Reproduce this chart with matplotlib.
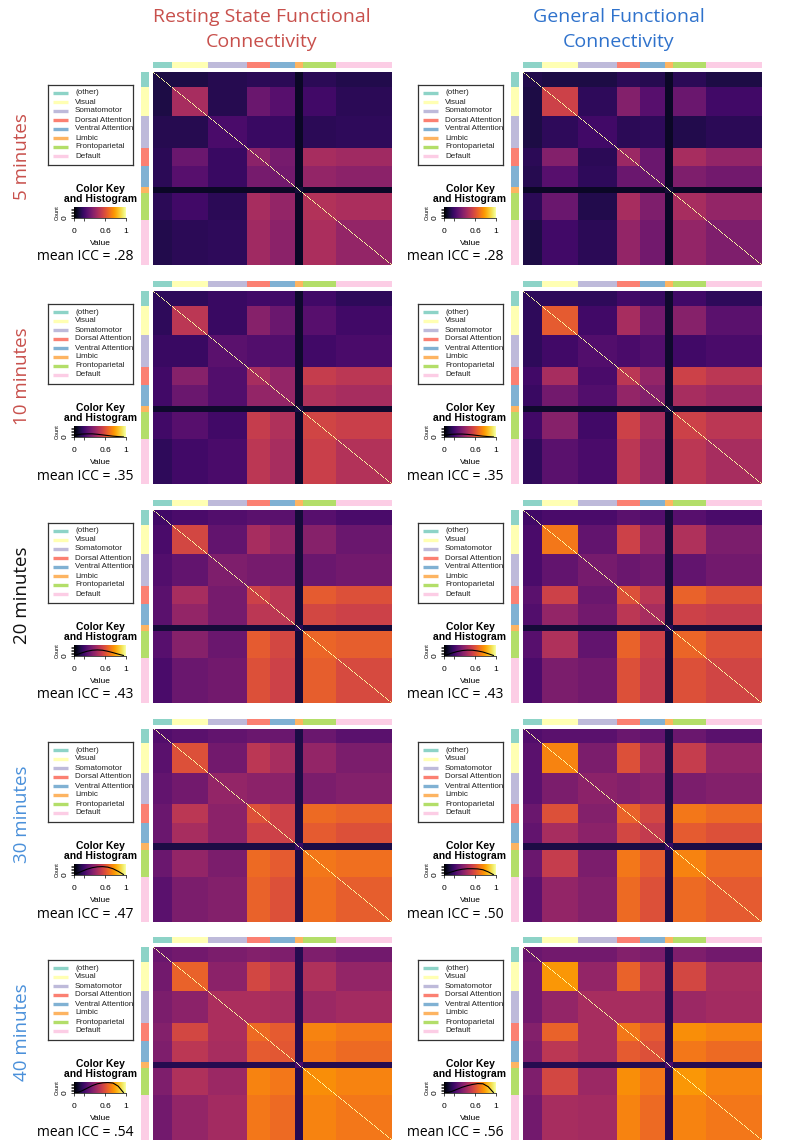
import numpy as np
import matplotlib.pyplot as plt
from matplotlib.colors import ListedColormap

W, H = 789, 1145

networks = ["(other)", "Visual", "Somatomotor", "Dorsal Attention",
            "Ventral Attention", "Limbic", "Frontoparietal", "Default"]
net_colors = ["#8dd3c7", "#ffffb3", "#bebada", "#fb8072",
              "#80b1d3", "#fdb462", "#b3de69", "#fccde5"]
net_sizes = [19, 36, 39, 23, 25, 8, 33, 56]

durations = ["5 minutes", "10 minutes", "20 minutes", "30 minutes", "40 minutes"]
duration_colors = ["#c8504c", "#c8504c", "#111111", "#4a90da", "#4a90da"]
mean_icc_rsfc = [".28", ".35", ".43", ".47", ".54"]
mean_icc_gfc = [".28", ".35", ".43", ".50", ".56"]

# network x network mean ICC, upper triangle (O, V, SM, DA, VA, L, FP, DM)
rsfc_5 = [[0.12, 0.12, 0.14, 0.15, 0.15, 0.07, 0.15, 0.13],
          [0.45, 0.14, 0.30, 0.25, 0.07, 0.20, 0.15],
          [0.22, 0.18, 0.18, 0.07, 0.15, 0.16],
          [0.38, 0.33, 0.07, 0.45, 0.43],
          [0.32, 0.07, 0.40, 0.38],
          [0.10, 0.07, 0.07],
          [0.48, 0.46],
          [0.40]]
gfc_5 = [[0.13, 0.12, 0.12, 0.15, 0.14, 0.07, 0.15, 0.12],
         [0.55, 0.16, 0.36, 0.25, 0.07, 0.30, 0.20],
         [0.20, 0.15, 0.16, 0.07, 0.13, 0.15],
         [0.42, 0.30, 0.07, 0.45, 0.40],
         [0.30, 0.07, 0.35, 0.32],
         [0.10, 0.07, 0.07],
         [0.45, 0.40],
         [0.35]]
rsfc_10 = [[0.16, 0.16, 0.18, 0.20, 0.20, 0.08, 0.20, 0.16],
           [0.50, 0.18, 0.37, 0.30, 0.08, 0.25, 0.20],
           [0.26, 0.24, 0.24, 0.08, 0.20, 0.22],
           [0.45, 0.40, 0.08, 0.53, 0.50],
           [0.40, 0.08, 0.47, 0.45],
           [0.12, 0.08, 0.08],
           [0.56, 0.54],
           [0.48]]
gfc_10 = [[0.16, 0.16, 0.16, 0.20, 0.18, 0.08, 0.20, 0.16],
          [0.63, 0.20, 0.45, 0.32, 0.08, 0.37, 0.26],
          [0.24, 0.22, 0.24, 0.08, 0.20, 0.22],
          [0.50, 0.40, 0.08, 0.55, 0.50],
          [0.36, 0.08, 0.45, 0.42],
          [0.12, 0.08, 0.08],
          [0.55, 0.50],
          [0.45]]
rsfc_20 = [[0.20, 0.22, 0.24, 0.26, 0.26, 0.10, 0.25, 0.22],
           [0.57, 0.28, 0.45, 0.40, 0.10, 0.37, 0.30],
           [0.35, 0.33, 0.33, 0.10, 0.30, 0.32],
           [0.55, 0.50, 0.10, 0.63, 0.60],
           [0.50, 0.10, 0.57, 0.55],
           [0.15, 0.10, 0.10],
           [0.66, 0.64],
           [0.58]]
gfc_20 = [[0.20, 0.22, 0.22, 0.26, 0.24, 0.10, 0.25, 0.22],
          [0.70, 0.28, 0.55, 0.40, 0.10, 0.47, 0.34],
          [0.33, 0.30, 0.32, 0.10, 0.28, 0.32],
          [0.60, 0.50, 0.10, 0.65, 0.60],
          [0.45, 0.10, 0.55, 0.53],
          [0.15, 0.10, 0.10],
          [0.66, 0.60],
          [0.56]]
rsfc_30 = [[0.24, 0.26, 0.28, 0.30, 0.30, 0.12, 0.30, 0.26],
           [0.60, 0.32, 0.50, 0.45, 0.12, 0.40, 0.34],
           [0.40, 0.38, 0.38, 0.12, 0.34, 0.36],
           [0.60, 0.55, 0.12, 0.67, 0.65],
           [0.55, 0.12, 0.63, 0.60],
           [0.18, 0.12, 0.12],
           [0.70, 0.68],
           [0.64]]
gfc_30 = [[0.24, 0.26, 0.26, 0.30, 0.28, 0.12, 0.30, 0.26],
          [0.73, 0.34, 0.60, 0.45, 0.12, 0.53, 0.40],
          [0.38, 0.36, 0.38, 0.12, 0.34, 0.36],
          [0.65, 0.57, 0.12, 0.70, 0.67],
          [0.52, 0.12, 0.63, 0.60],
          [0.18, 0.12, 0.12],
          [0.73, 0.67],
          [0.63]]
rsfc_40 = [[0.30, 0.32, 0.34, 0.36, 0.35, 0.14, 0.35, 0.32],
           [0.65, 0.38, 0.57, 0.50, 0.14, 0.47, 0.40],
           [0.46, 0.46, 0.45, 0.14, 0.42, 0.44],
           [0.67, 0.63, 0.14, 0.73, 0.70],
           [0.62, 0.14, 0.70, 0.67],
           [0.22, 0.14, 0.14],
           [0.75, 0.73],
           [0.70]]
gfc_40 = [[0.30, 0.32, 0.32, 0.36, 0.34, 0.14, 0.35, 0.32],
          [0.77, 0.40, 0.65, 0.50, 0.14, 0.57, 0.45],
          [0.45, 0.45, 0.45, 0.14, 0.42, 0.44],
          [0.70, 0.63, 0.14, 0.75, 0.73],
          [0.60, 0.14, 0.70, 0.67],
          [0.22, 0.14, 0.14],
          [0.77, 0.73],
          [0.70]]
rsfc_blocks = [rsfc_5, rsfc_10, rsfc_20, rsfc_30, rsfc_40]
gfc_blocks = [gfc_5, gfc_10, gfc_20, gfc_30, gfc_40]

# histogram line in the colour key (fraction of key height), None = not visible
hist_x = [0.05, 0.15, 0.25, 0.35, 0.45, 0.55, 0.65, 0.75, 0.85, 0.95]
hist_rsfc = [None,
             [0.22, 0.28, 0.30, 0.30, 0.26, 0.20, 0.14, 0.08, 0.04, 0.01],
             [0.12, 0.30, 0.45, 0.55, 0.58, 0.55, 0.45, 0.32, 0.18, 0.05],
             [0.15, 0.35, 0.55, 0.70, 0.78, 0.80, 0.75, 0.60, 0.35, 0.05],
             [0.02, 0.20, 0.45, 0.70, 0.88, 0.97, 1.00, 0.95, 0.65, 0.05]]
hist_gfc = [None,
            [0.20, 0.26, 0.28, 0.28, 0.25, 0.20, 0.14, 0.08, 0.04, 0.01],
            [0.10, 0.28, 0.42, 0.52, 0.56, 0.55, 0.48, 0.38, 0.22, 0.05],
            [0.15, 0.30, 0.45, 0.55, 0.60, 0.60, 0.58, 0.50, 0.30, 0.03],
            [0.02, 0.15, 0.35, 0.55, 0.70, 0.82, 0.90, 0.88, 0.60, 0.05]]


def full_block(tri):
    k = len(tri)
    b = np.zeros((k, k))
    for i, row in enumerate(tri):
        b[i, i:] = row
        b[i:, i] = row
    return b


def roi_matrix(tri):
    b = full_block(tri)
    m = np.repeat(np.repeat(b, net_sizes, axis=0), net_sizes, axis=1)
    np.fill_diagonal(m, 1.0)
    return m


def add_ax(x0, y0, w, h):
    return fig.add_axes([x0 / W, 1 - (y0 + h) / H, w / W, h / H])


def ftext(x, y, s, **kw):
    fig.text(x / W, 1 - y / H, s, **kw)


fig = plt.figure(figsize=(W / 100, H / 100), dpi=100)
net_cmap = ListedColormap(net_colors)
labels = np.repeat(np.arange(len(net_sizes)), net_sizes)

tops = [72, 291, 510, 729, 947]
title_font = "Open Sans"
r_font = "Liberation Sans"


def draw_panel(dx, top, tri, hist, icc):
    hx, hw, hh = 153 + dx, 239, 193
    ax = add_ax(hx, top, hw, hh)
    ax.imshow(roi_matrix(tri), cmap="inferno", vmin=0, vmax=1,
              aspect="auto", interpolation="nearest")
    ax.axis("off")

    st = add_ax(hx, top - 10, hw, 6)
    st.imshow(labels[None, :], cmap=net_cmap, vmin=-0.5, vmax=7.5,
              aspect="auto", interpolation="nearest")
    st.axis("off")
    sl = add_ax(141 + dx, top, 8, hh)
    sl.imshow(labels[:, None], cmap=net_cmap, vmin=-0.5, vmax=7.5,
              aspect="auto", interpolation="nearest")
    sl.axis("off")

    # legend box
    lg = add_ax(48 + dx, top + 13, 85, 80)
    lg.set_xlim(0, 85)
    lg.set_ylim(80, 0)
    lg.set_xticks([])
    lg.set_yticks([])
    for s in lg.spines.values():
        s.set_linewidth(0.9)
        s.set_color("#333333")
    for i, (name, col) in enumerate(zip(networks, net_colors)):
        yy = 8 + 9 * i
        lg.plot([5, 20], [yy, yy], color=col, lw=2.4, solid_capstyle="butt")
        lg.text(27, yy, name, fontsize=5.8, va="center", ha="left",
                family=r_font, color="#222222")

    # colour key
    ftext(100 + dx, top + 117, "Color Key", fontsize=7.5, weight="bold",
          ha="center", va="center", family=r_font)
    ftext(100 + dx, top + 127, "and Histogram", fontsize=7.5, weight="bold",
          ha="center", va="center", family=r_font)
    k = add_ax(74 + dx, top + 135, 52, 11)
    k.imshow(np.linspace(0, 1, 256)[None, :], cmap="inferno",
             extent=[0, 1, 0, 1], aspect="auto")
    if hist is not None:
        k.plot(hist_x, hist, color="black", lw=0.8)
    k.set_xlim(0, 1)
    k.set_ylim(0, 1.05)
    k.set_xticks([0, 0.2, 0.6, 1])
    k.set_xticklabels(["0", "", "0.6", "1"], fontsize=6, family=r_font)
    k.set_yticks([0, 0.15, 0.3, 0.45, 0.6, 0.75, 0.9])
    k.set_yticklabels(["0", "", "", "", "", "", ""], fontsize=6,
                      rotation=90, va="center", family=r_font)
    k.tick_params(axis="x", length=2.5, width=0.5, pad=5)
    k.tick_params(axis="y", length=2.5, width=0.5, pad=1.5)
    k.set_xlabel("Value", fontsize=6, labelpad=3.5, family=r_font)
    k.set_ylabel("Count", fontsize=4, labelpad=1, family=r_font)
    for s in ["top", "right"]:
        k.spines[s].set_visible(False)
    for s in ["left", "bottom"]:
        k.spines[s].set_linewidth(0.5)

    ftext(85 + dx, top + 185, "mean ICC = " + icc, fontsize=10,
          ha="center", va="center", family=title_font)


for r in range(5):
    draw_panel(0, tops[r], rsfc_blocks[r], hist_rsfc[r], mean_icc_rsfc[r])
    draw_panel(370, tops[r], gfc_blocks[r], hist_gfc[r], mean_icc_gfc[r])
    ftext(22, tops[r] + 85, durations[r], rotation=90, fontsize=13.5,
          color=duration_colors[r], ha="center", va="center",
          family=title_font)

ftext(262, 17, "Resting State Functional", fontsize=14, color="#c8504c",
      ha="center", va="center", family=title_font)
ftext(262, 42, "Connectivity", fontsize=14, color="#c8504c",
      ha="center", va="center", family=title_font)
ftext(619, 17, "General Functional", fontsize=14, color="#2f72cc",
      ha="center", va="center", family=title_font)
ftext(619, 42, "Connectivity", fontsize=14, color="#2f72cc",
      ha="center", va="center", family=title_font)

fig.savefig("out.png", dpi=100)
